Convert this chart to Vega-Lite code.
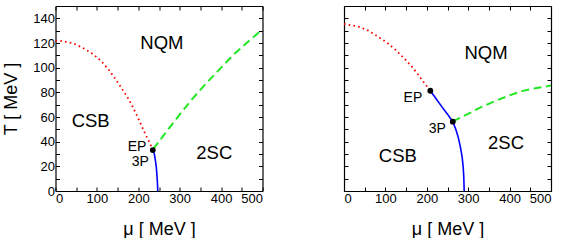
{
  "$schema": "https://vega.github.io/schema/vega-lite/v6.json",
  "padding": {"left": 2.5, "top": 5, "right": 2, "bottom": 0},
  "spacing": 81.5,
  "bounds": "flush",
  "config": {
    "view": {"stroke": null},
    "font": "Liberation Sans",
    "axis": {
      "domainColor": "black", "tickColor": "black", "domainWidth": 1.2, "tickWidth": 1,
      "labelFont": "Liberation Sans", "labelFontSize": 13, "labelColor": "black",
      "titleFont": "Liberation Sans", "titleFontSize": 18, "titleFontWeight": "normal", "titleColor": "black",
      "grid": false, "tickSize": -4, "labelPadding": 5
    }
  },
  "datasets": {
    "curves": [
      {"panel": "L", "line": "crossover", "mu": 0, "T": 122},
      {"panel": "L", "line": "crossover", "mu": 10, "T": 121.8},
      {"panel": "L", "line": "crossover", "mu": 25, "T": 121},
      {"panel": "L", "line": "crossover", "mu": 43, "T": 119.7},
      {"panel": "L", "line": "crossover", "mu": 65, "T": 116.2},
      {"panel": "L", "line": "crossover", "mu": 88, "T": 111.6},
      {"panel": "L", "line": "crossover", "mu": 100, "T": 108.4},
      {"panel": "L", "line": "crossover", "mu": 111, "T": 105.1},
      {"panel": "L", "line": "crossover", "mu": 129, "T": 98.1},
      {"panel": "L", "line": "crossover", "mu": 146, "T": 90.3},
      {"panel": "L", "line": "crossover", "mu": 161, "T": 82.7},
      {"panel": "L", "line": "crossover", "mu": 175, "T": 75.4},
      {"panel": "L", "line": "crossover", "mu": 186, "T": 68.5},
      {"panel": "L", "line": "crossover", "mu": 197, "T": 61},
      {"panel": "L", "line": "crossover", "mu": 207, "T": 53.5},
      {"panel": "L", "line": "crossover", "mu": 217, "T": 46.2},
      {"panel": "L", "line": "crossover", "mu": 226, "T": 40},
      {"panel": "L", "line": "crossover", "mu": 233, "T": 35},
      {"panel": "L", "line": "second", "mu": 236, "T": 34},
      {"panel": "L", "line": "second", "mu": 270, "T": 49},
      {"panel": "L", "line": "second", "mu": 300, "T": 62},
      {"panel": "L", "line": "second", "mu": 330, "T": 74.5},
      {"panel": "L", "line": "second", "mu": 366, "T": 88},
      {"panel": "L", "line": "second", "mu": 400, "T": 100},
      {"panel": "L", "line": "second", "mu": 430, "T": 110.5},
      {"panel": "L", "line": "second", "mu": 465, "T": 121},
      {"panel": "L", "line": "second", "mu": 500, "T": 131},
      {"panel": "L", "line": "first", "mu": 235, "T": 33.2},
      {"panel": "L", "line": "first", "mu": 238.7, "T": 30},
      {"panel": "L", "line": "first", "mu": 241.2, "T": 25},
      {"panel": "L", "line": "first", "mu": 243.6, "T": 19},
      {"panel": "L", "line": "first", "mu": 245.2, "T": 12},
      {"panel": "L", "line": "first", "mu": 246.3, "T": 6},
      {"panel": "L", "line": "first", "mu": 247, "T": 0},
      {"panel": "R", "line": "crossover", "mu": 0, "T": 135.5},
      {"panel": "R", "line": "crossover", "mu": 7, "T": 135},
      {"panel": "R", "line": "crossover", "mu": 35, "T": 133.3},
      {"panel": "R", "line": "crossover", "mu": 59, "T": 130},
      {"panel": "R", "line": "crossover", "mu": 80, "T": 125.7},
      {"panel": "R", "line": "crossover", "mu": 103, "T": 120.5},
      {"panel": "R", "line": "crossover", "mu": 125, "T": 114.3},
      {"panel": "R", "line": "crossover", "mu": 147, "T": 107},
      {"panel": "R", "line": "crossover", "mu": 167, "T": 99.7},
      {"panel": "R", "line": "crossover", "mu": 191, "T": 88.9},
      {"panel": "R", "line": "crossover", "mu": 208.5, "T": 81.3},
      {"panel": "R", "line": "first", "mu": 208.5, "T": 81.3},
      {"panel": "R", "line": "first", "mu": 222, "T": 75},
      {"panel": "R", "line": "first", "mu": 237, "T": 68},
      {"panel": "R", "line": "first", "mu": 250, "T": 62.3},
      {"panel": "R", "line": "first", "mu": 262.8, "T": 56.2},
      {"panel": "R", "line": "first", "mu": 270, "T": 50},
      {"panel": "R", "line": "first", "mu": 276, "T": 43.5},
      {"panel": "R", "line": "first", "mu": 281, "T": 36},
      {"panel": "R", "line": "first", "mu": 285.5, "T": 27.3},
      {"panel": "R", "line": "first", "mu": 288, "T": 19},
      {"panel": "R", "line": "first", "mu": 289.4, "T": 11},
      {"panel": "R", "line": "first", "mu": 290.3, "T": 0},
      {"panel": "R", "line": "second", "mu": 263, "T": 56.3},
      {"panel": "R", "line": "second", "mu": 269, "T": 57.5},
      {"panel": "R", "line": "second", "mu": 300, "T": 62.5},
      {"panel": "R", "line": "second", "mu": 325, "T": 67},
      {"panel": "R", "line": "second", "mu": 365, "T": 73},
      {"panel": "R", "line": "second", "mu": 400, "T": 77.5},
      {"panel": "R", "line": "second", "mu": 430, "T": 81},
      {"panel": "R", "line": "second", "mu": 465, "T": 83.5},
      {"panel": "R", "line": "second", "mu": 500, "T": 85.5}
    ],
    "points": [
      {"panel": "L", "name": "EP/3P", "mu": 235, "T": 33.2},
      {"panel": "R", "name": "EP", "mu": 208.5, "T": 81.3},
      {"panel": "R", "name": "3P", "mu": 262.8, "T": 56.2}
    ],
    "labels": [
      {"panel": "L", "kind": "phase", "text": "NQM", "mu": 257, "T": 120},
      {"panel": "L", "kind": "phase", "text": "CSB", "mu": 85, "T": 57},
      {"panel": "L", "kind": "phase", "text": "2SC", "mu": 383.5, "T": 31},
      {"panel": "L", "kind": "point", "text": "EP", "mu": 197, "T": 35.4},
      {"panel": "L", "kind": "point", "text": "3P", "mu": 205, "T": 23.2},
      {"panel": "R", "kind": "phase", "text": "NQM", "mu": 343, "T": 111.6},
      {"panel": "R", "kind": "phase", "text": "CSB", "mu": 130, "T": 28},
      {"panel": "R", "kind": "phase", "text": "2SC", "mu": 391.5, "T": 38.6},
      {"panel": "R", "kind": "point", "text": "EP", "mu": 166.4, "T": 75.1},
      {"panel": "R", "kind": "point", "text": "3P", "mu": 225.2, "T": 50.5}
    ]
  },
  "hconcat": [
    {
      "width": 207, "height": 185,
      "resolve": {"axis": {"x": "independent", "y": "independent"}},
      "layer": [
        {
          "data": {"name": "curves"},
          "transform": [{"filter": "datum.panel === 'L' && datum.line === 'crossover'"}],
          "mark": {"type": "line", "color": "#ff0000", "strokeWidth": 1.8, "strokeDash": [1.6, 3.2]},
          "encoding": {
            "x": {"field": "mu", "type": "quantitative", "scale": {"domain": [0, 500], "nice": false}, "axis": {"orient": "bottom", "title": "μ  [ MeV ]", "values": [0, 50, 100, 150, 200, 250, 300, 350, 400, 450, 500], "labelExpr": "datum.value % 100 === 0 ? datum.label : ''", "titlePadding": 15}},
            "y": {"field": "T", "type": "quantitative", "scale": {"domain": [0, 150], "nice": false}, "axis": {"orient": "left", "title": "T  [ MeV ]", "values": [0, 10, 20, 30, 40, 50, 60, 70, 80, 90, 100, 110, 120, 130, 140], "labelExpr": "datum.value % 20 === 0 ? datum.label : ''", "titlePadding": 12}}
          }
        },
        {
          "data": {"name": "curves"},
          "transform": [{"filter": "datum.panel === 'L' && datum.line === 'second'"}],
          "mark": {"type": "line", "color": "#22e622", "strokeWidth": 2, "strokeDash": [8, 4.5]},
          "encoding": {
            "x": {"field": "mu", "type": "quantitative", "scale": {"domain": [0, 500], "nice": false}, "axis": {"orient": "top", "title": null, "labels": false, "values": [0, 50, 100, 150, 200, 250, 300, 350, 400, 450, 500]}},
            "y": {"field": "T", "type": "quantitative", "scale": {"domain": [0, 150], "nice": false}, "axis": {"orient": "right", "title": null, "labels": false, "values": [0, 10, 20, 30, 40, 50, 60, 70, 80, 90, 100, 110, 120, 130, 140]}}
          }
        },
        {
          "data": {"name": "curves"},
          "transform": [{"filter": "datum.panel === 'L' && datum.line === 'first'"}],
          "mark": {"type": "line", "color": "#0000ff", "strokeWidth": 1.6},
          "encoding": {
            "x": {"field": "mu", "type": "quantitative", "axis": null},
            "y": {"field": "T", "type": "quantitative", "axis": null}
          }
        },
        {
          "data": {"name": "points"},
          "transform": [{"filter": "datum.panel === 'L'"}],
          "mark": {"type": "circle", "color": "black", "size": 34, "opacity": 1},
          "encoding": {
            "x": {"field": "mu", "type": "quantitative", "axis": null},
            "y": {"field": "T", "type": "quantitative", "axis": null}
          }
        },
        {
          "data": {"name": "labels"},
          "transform": [{"filter": "datum.panel === 'L' && datum.kind === 'phase'"}],
          "mark": {"type": "text", "font": "Liberation Sans", "fontSize": 18.5, "color": "black", "baseline": "middle", "align": "center"},
          "encoding": {
            "x": {"field": "mu", "type": "quantitative", "axis": null},
            "y": {"field": "T", "type": "quantitative", "axis": null},
            "text": {"field": "text"}
          }
        },
        {
          "data": {"name": "labels"},
          "transform": [{"filter": "datum.panel === 'L' && datum.kind === 'point'"}],
          "mark": {"type": "text", "font": "Liberation Sans", "fontSize": 14, "color": "black", "baseline": "middle", "align": "center"},
          "encoding": {
            "x": {"field": "mu", "type": "quantitative", "axis": null},
            "y": {"field": "T", "type": "quantitative", "axis": null},
            "text": {"field": "text"}
          }
        }
      ]
    },
    {
      "width": 207, "height": 185,
      "resolve": {"axis": {"x": "independent", "y": "independent"}},
      "layer": [
        {
          "data": {"name": "curves"},
          "transform": [{"filter": "datum.panel === 'R' && datum.line === 'crossover'"}],
          "mark": {"type": "line", "color": "#ff0000", "strokeWidth": 1.8, "strokeDash": [1.6, 3.2]},
          "encoding": {
            "x": {"field": "mu", "type": "quantitative", "scale": {"domain": [0, 500], "nice": false}, "axis": {"orient": "bottom", "title": "μ  [ MeV ]", "values": [0, 50, 100, 150, 200, 250, 300, 350, 400, 450, 500], "labelExpr": "datum.value % 100 === 0 ? datum.label : ''", "titlePadding": 15}},
            "y": {"field": "T", "type": "quantitative", "scale": {"domain": [0, 150], "nice": false}, "axis": {"orient": "left", "title": null, "labels": false, "values": [0, 10, 20, 30, 40, 50, 60, 70, 80, 90, 100, 110, 120, 130, 140]}}
          }
        },
        {
          "data": {"name": "curves"},
          "transform": [{"filter": "datum.panel === 'R' && datum.line === 'second'"}],
          "mark": {"type": "line", "color": "#22e622", "strokeWidth": 2, "strokeDash": [8, 4.5]},
          "encoding": {
            "x": {"field": "mu", "type": "quantitative", "scale": {"domain": [0, 500], "nice": false}, "axis": {"orient": "top", "title": null, "labels": false, "values": [0, 50, 100, 150, 200, 250, 300, 350, 400, 450, 500]}},
            "y": {"field": "T", "type": "quantitative", "scale": {"domain": [0, 150], "nice": false}, "axis": {"orient": "right", "title": null, "labels": false, "values": [0, 10, 20, 30, 40, 50, 60, 70, 80, 90, 100, 110, 120, 130, 140]}}
          }
        },
        {
          "data": {"name": "curves"},
          "transform": [{"filter": "datum.panel === 'R' && datum.line === 'first'"}],
          "mark": {"type": "line", "color": "#0000ff", "strokeWidth": 1.6},
          "encoding": {
            "x": {"field": "mu", "type": "quantitative", "axis": null},
            "y": {"field": "T", "type": "quantitative", "axis": null}
          }
        },
        {
          "data": {"name": "points"},
          "transform": [{"filter": "datum.panel === 'R'"}],
          "mark": {"type": "circle", "color": "black", "size": 34, "opacity": 1},
          "encoding": {
            "x": {"field": "mu", "type": "quantitative", "axis": null},
            "y": {"field": "T", "type": "quantitative", "axis": null}
          }
        },
        {
          "data": {"name": "labels"},
          "transform": [{"filter": "datum.panel === 'R' && datum.kind === 'phase'"}],
          "mark": {"type": "text", "font": "Liberation Sans", "fontSize": 18.5, "color": "black", "baseline": "middle", "align": "center"},
          "encoding": {
            "x": {"field": "mu", "type": "quantitative", "axis": null},
            "y": {"field": "T", "type": "quantitative", "axis": null},
            "text": {"field": "text"}
          }
        },
        {
          "data": {"name": "labels"},
          "transform": [{"filter": "datum.panel === 'R' && datum.kind === 'point'"}],
          "mark": {"type": "text", "font": "Liberation Sans", "fontSize": 14, "color": "black", "baseline": "middle", "align": "center"},
          "encoding": {
            "x": {"field": "mu", "type": "quantitative", "axis": null},
            "y": {"field": "T", "type": "quantitative", "axis": null},
            "text": {"field": "text"}
          }
        }
      ]
    }
  ]
}
